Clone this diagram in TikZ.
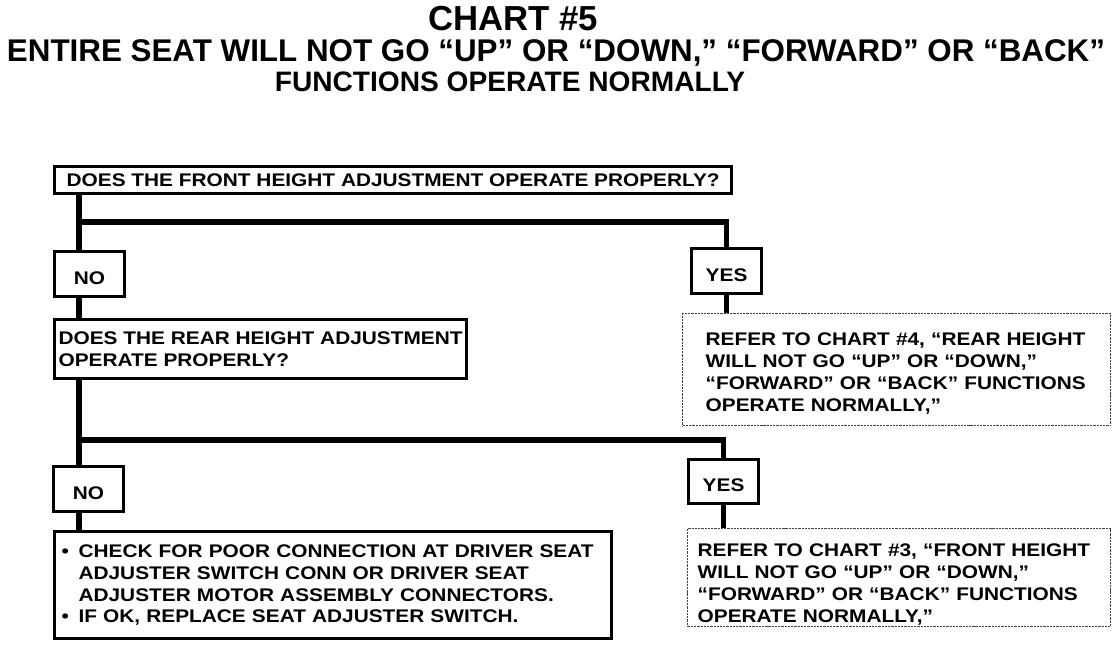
\documentclass[tikz,border=0pt]{standalone}
\usepackage{fontspec}
\setmainfont{Liberation Sans}
\newfontfamily\chartfont{Liberation Sans}[FakeStretch=1.14]
\usetikzlibrary{positioning}
\tikzset{
  qbox/.style={
    rectangle, draw, line width=2.2pt, anchor=north west, align=left,
    inner xsep=0.2cm, inner ysep=0pt,
    font=\chartfont\bfseries\fontsize{13}{15.6}\selectfont
  },
  ansbox/.style={
    qbox, align=center, inner xsep=0pt, text height=0.525cm,
    minimum width=1.75cm, minimum height=1.125cm
  },
  refbox/.style={
    qbox, line width=0.9pt, draw=black!75,
    dash pattern=on 1.6pt off 0.7pt
  },
  flow/.style={line width=4pt},
  ttl/.style={font=\bfseries\fontsize{#1}{#1}\selectfont, inner sep=0pt, anchor=base}
}
\newcommand{\bul}{\makebox[0.425cm][l]{\textbullet}}

\begin{document}
\begin{tikzpicture}[x=0.025cm, y=-0.025cm]
  \useasboundingbox (0,0) rectangle (1120,646);
  % heading
  \node[ttl=24.7] (t1) at (513,30) {CHART \#5};
  \node[ttl=22.3] (t2) at (556,61) {ENTIRE SEAT WILL NOT GO “UP” OR “DOWN,” “FORWARD” OR “BACK”};
  \node[ttl=20]   (t3) at (510,91) {FUNCTIONS OPERATE NORMALLY};
  % questions and answers
  \node[qbox, align=center, minimum width=16.925cm, minimum height=0.675cm] (q1) at (53,165)
    {DOES THE FRONT HEIGHT ADJUSTMENT OPERATE PROPERLY?};
  \node[ansbox]   (no1)  at (53,250)  {NO};
  \node[ansbox]   (yes1) at (690,247) {YES};
  \node[qbox, inner xsep=0pt, minimum width=10.3cm, minimum height=1.475cm] (q2) at (53,318)
    {DOES THE REAR HEIGHT ADJUSTMENT\\OPERATE PROPERLY?};
  \node[refbox, inner xsep=0.575cm, text width=9.55cm, minimum height=2.8cm, text height=0.5cm] (r1) at (682,313)
    {REFER TO CHART \#4, “REAR HEIGHT\\WILL NOT GO “UP” OR “DOWN,”\\“FORWARD” OR “BACK” FUNCTIONS\\OPERATE NORMALLY,”};
  \node[ansbox]   (no2)  at (52,465)  {NO};
  \node[ansbox, minimum height=1.1cm] (yes2) at (687,458) {YES};
  \node[qbox, inner xsep=0.175cm, text width=13.575cm, minimum height=2.675cm] (act) at (53,530)
    {\bul CHECK FOR POOR CONNECTION AT DRIVER SEAT\\
     \hspace*{0.425cm}ADJUSTER SWITCH CONN OR DRIVER SEAT\\
     \hspace*{0.425cm}ADJUSTER MOTOR ASSEMBLY CONNECTORS.\\
     \bul IF OK, REPLACE SEAT ADJUSTER SWITCH.};
  \node[refbox, inner xsep=0.25cm, text width=10.075cm, minimum height=2.45cm, text height=0.65cm] (r2) at (687,528)
    {REFER TO CHART \#3, “FRONT HEIGHT\\WILL NOT GO “UP” OR “DOWN,”\\“FORWARD” OR “BACK” FUNCTIONS\\OPERATE NORMALLY,”};
  % connectors
  \coordinate (j1) at (79,222);
  \coordinate (j2) at (79,440);
  \draw[flow] (q1.south -| j1) -- (no1.north -| j1);
  \draw[flow] (j1) -| (yes1.north);
  \draw[flow] (no1.south -| j1) -- (q2.north -| j1);
  \draw[flow] (yes1.south) -- (yes1.south |- r1.north);
  \draw[flow] (q2.south -| j2) -- (no2.north -| j2);
  \draw[flow] (j2) -| (yes2.north);
  \draw[flow] (no2.south -| j2) -- (act.north -| j2);
  \draw[flow] (yes2.south) -- (yes2.south |- r2.north);
\end{tikzpicture}
\end{document}
